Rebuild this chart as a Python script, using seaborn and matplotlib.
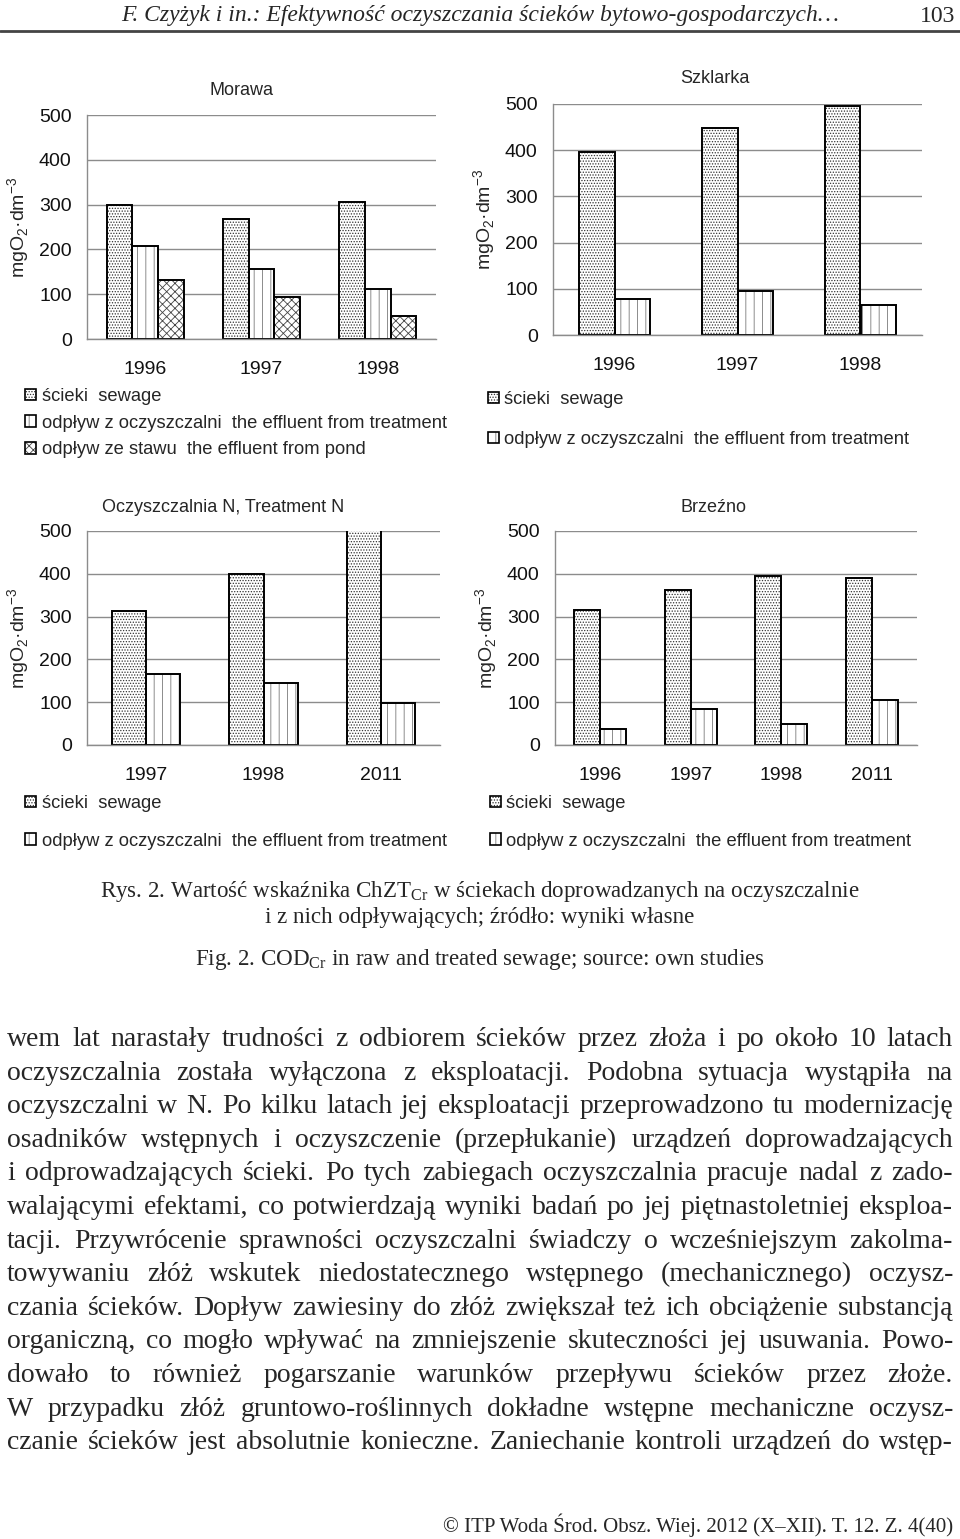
import numpy as np
import pandas as pd
import seaborn as sns
import matplotlib.pyplot as plt
from matplotlib.patches import Patch, Rectangle

# --- data (mgO2/dm3) ---
series_sew = 'ścieki  sewage'
series_eff = 'odpływ z oczyszczalni  the effluent from treatment'
series_pond = 'odpływ ze stawu  the effluent from pond'

morawa_years = ['1996', '1997', '1998']
morawa_sewage = [300, 267, 305]
morawa_effluent = [207, 157, 111]
morawa_pond = [132, 94, 52]

szklarka_years = ['1996', '1997', '1998']
szklarka_sewage = [397, 449, 496]
szklarka_effluent = [79, 95, 65]

oczn_years = ['1997', '1998', '2011']
oczn_sewage = [312, 399, 560]
oczn_effluent = [167, 145, 99]

brzezno_years = ['1996', '1997', '1998', '2011']
brzezno_sewage = [315, 362, 394, 391]
brzezno_effluent = [37, 84, 48, 106]

hatches = {series_sew: '......', series_eff: '||', series_pond: 'xxxx'}
hatch_colors = {series_sew: '#333333', series_eff: '#7a7a7a', series_pond: '#444444'}

body_lines = [
    'wem lat narastały trudności z odbiorem ścieków przez złoża i po około 10 latach',
    'oczyszczalnia została wyłączona z eksploatacji. Podobna sytuacja wystąpiła na',
    'oczyszczalni w N. Po kilku latach jej eksploatacji przeprowadzono tu modernizację',
    'osadników wstępnych i oczyszczenie (przepłukanie) urządzeń doprowadzających',
    'i odprowadzających ścieki. Po tych zabiegach oczyszczalnia pracuje nadal z zado-',
    'walającymi efektami, co potwierdzają wyniki badań po jej piętnastoletniej eksploa-',
    'tacji. Przywrócenie sprawności oczyszczalni świadczy o wcześniejszym zakolma-',
    'towywaniu złóż wskutek niedostatecznego wstępnego (mechanicznego) oczysz-',
    'czania ścieków. Dopływ zawiesiny do złóż zwiększał też ich obciążenie substancją',
    'organiczną, co mogło wpływać na zmniejszenie skuteczności jej usuwania. Powo-',
    'dowało to również pogarszanie warunków przepływu ścieków przez złoże.',
    'W przypadku złóż gruntowo-roślinnych dokładne wstępne mechaniczne oczysz-',
    'czanie ścieków jest absolutnie konieczne. Zaniechanie kontroli urządzeń do wstęp-',
]

sns.set_style('white')
plt.rcParams['font.family'] = ['Liberation Sans', 'DejaVu Sans']
plt.rcParams['hatch.linewidth'] = 0.6
plt.rcParams['mathtext.fontset'] = 'custom'
plt.rcParams['mathtext.rm'] = 'Liberation Sans'

W, H = 960, 1539
fig = plt.figure(figsize=(W / 100, H / 100), dpi=100)


def box(l, t, r, b):
    return [l / W, 1 - b / H, (r - l) / W, (b - t) / H]


def chart(rect, title, title_x, years, cols, width, legend_xy, spacing):
    ax = fig.add_axes(rect)
    df = pd.DataFrame({'year': years, **cols}).melt(id_vars='year', var_name='series', value_name='value')
    order = list(cols.keys())
    sns.barplot(data=df, x='year', y='value', hue='series', hue_order=order, ax=ax,
                palette=['white'] * len(order), saturation=1, width=width, gap=0,
                edgecolor='black', linewidth=1.3, errorbar=None, legend=False)
    # hatch in gray, outline in black on top
    for cont, name in zip(ax.containers, order):
        for p in cont:
            p.set_hatch(hatches[name])
            p.set_edgecolor(hatch_colors[name])
            p.set_linewidth(0)
            ax.add_patch(Rectangle(p.get_xy(), p.get_width(), p.get_height(), fill=False,
                                   edgecolor='black', linewidth=1.4, zorder=p.get_zorder() + 0.1))
    n = len(years)
    ax.set_ylim(0, 500)
    ax.set_xlim(-0.5, n - 0.5)
    ax.set_yticks(np.arange(0, 501, 100))
    ax.grid(axis='y', color='#8c8c8c', linewidth=1)
    ax.set_axisbelow(True)
    for s in ['top', 'right']:
        ax.spines[s].set_visible(False)
    for s in ['left', 'bottom']:
        ax.spines[s].set_color('#8c8c8c')
        ax.spines[s].set_linewidth(1)
    ax.set_xticks(np.arange(-0.5, n), minor=True)
    ax.tick_params(axis='x', which='major', length=0, labelsize=14, pad=16, labelcolor='#111')
    ax.tick_params(axis='x', which='minor', length=5, color='#8c8c8c', width=1, direction='out')
    ax.tick_params(axis='y', length=6, color='#8c8c8c', width=1, labelsize=14, pad=5, labelcolor='#111')
    ax.set_xlabel('')
    ax.set_ylabel('mgO$_2$·dm$^{-3}$', fontsize=14, labelpad=5)
    ax.text(title_x, 1.11, title, transform=ax.transAxes, ha='center', va='center', fontsize=13)
    handles = [(Patch(facecolor='white', edgecolor=hatch_colors[s], hatch=hatches[s], linewidth=0),
                Patch(fill=False, edgecolor='black', linewidth=1.2)) for s in order]
    fig.legend(handles=handles, labels=order, loc='upper left',
               bbox_to_anchor=(legend_xy[0] / W, 1 - legend_xy[1] / H),
               frameon=False, fontsize=13.2, handlelength=0.6, handleheight=0.6, handletextpad=0.3,
               borderpad=0, borderaxespad=0, labelspacing=spacing)
    return ax


chart(box(87, 115, 436, 339), 'Morawa', 0.444, morawa_years,
      {series_sew: morawa_sewage, series_eff: morawa_effluent, series_pond: morawa_pond},
      0.66, (25, 388), 0.53)
chart(box(553, 104, 922, 335), 'Szklarka', 0.44, szklarka_years,
      {series_sew: szklarka_sewage, series_eff: szklarka_effluent},
      0.58, (488, 391), 1.25)
chart(box(87, 531, 440, 745), 'Oczyszczalnia N, Treatment N', 0.385, oczn_years,
      {series_sew: oczn_sewage, series_eff: oczn_effluent},
      0.58, (25, 795), 1.12)
chart(box(555, 531, 917, 745), 'Brzeźno', 0.437, brzezno_years,
      {series_sew: brzezno_sewage, series_eff: brzezno_effluent},
      0.58, (490, 795), 1.12)

serif = ['Liberation Serif', 'DejaVu Serif']

# header
fig.text(480 / W, 1 - 16 / H, 'F. Czyżyk i in.: Efektywność oczyszczania ścieków bytowo-gospodarczych…',
         family=serif, style='italic', fontsize=17, ha='center', va='center')
fig.text(955 / W, 1 - 16 / H, '103', family=serif, fontsize=17, ha='right', va='center')
fig.add_artist(plt.Line2D([0, 1], [1 - 31 / H, 1 - 31 / H], color='#444', linewidth=2))

# caption
fig.text(480 / W, 1 - 891 / H, 'Rys. 2. Wartość wskaźnika ChZT$_{\\mathregular{Cr}}$ w ściekach doprowadzanych na oczyszczalnie',
         family=serif, fontsize=16.6, ha='center', va='center')
fig.text(480 / W, 1 - 917 / H, 'i z nich odpływających; źródło: wyniki własne',
         family=serif, fontsize=16.6, ha='center', va='center')
fig.text(480 / W, 1 - 960 / H, 'Fig. 2. COD$_{\\mathregular{Cr}}$ in raw and treated sewage; source: own studies',
         family=serif, fontsize=16.6, ha='center', va='center')

# body text, justified word by word
body_size = 20
words_all = []
for i, line in enumerate(body_lines):
    y = 1 - (1046 + i * 33.6) / H
    words_all.append([fig.text(0, y, w, family=serif, fontsize=body_size, va='baseline', ha='left')
                      for w in line.split(' ')])
fig.canvas.draw()
renderer = fig.canvas.get_renderer()
x0, x1 = 7, 953
for words in words_all:
    widths = [t.get_window_extent(renderer).width for t in words]
    gap = (x1 - x0 - sum(widths)) / (len(words) - 1)
    x = x0
    for t, wd in zip(words, widths):
        t.set_x(x / W)
        x += wd + gap

fig.text(953 / W, 1 - 1525 / H, '© ITP Woda Środ. Obsz. Wiej. 2012 (X–XII). T. 12. Z. 4(40)',
         family=serif, fontsize=15, ha='right', va='center')

fig.savefig('out.png', dpi=100, facecolor='white')
